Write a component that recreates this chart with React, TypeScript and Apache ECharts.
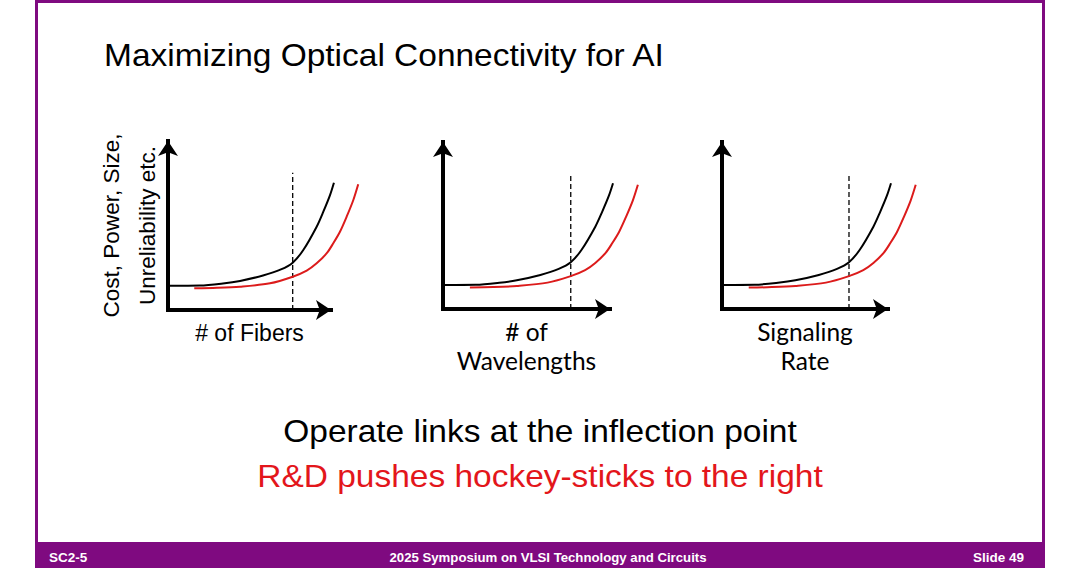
import React, { useEffect, useRef } from "react";
import * as echarts from "echarts";

// ---- data ----
const titleText = "Maximizing Optical Connectivity for AI";
const yAxisTitle = "Cost, Power, Size,\nUnreliability etc.";
const xAxisTitles = ["# of Fibers", "# of\nWavelengths", "Signaling\nRate"];
const baselineX = [0.12, 1.96, 3.37, 4.42, 5.83, 6.93, 7.65, 8.3, 9.12, 9.53, 9.94, 10.18];
const baselineY = [1.44, 1.45, 1.57, 1.72, 2.04, 2.4, 2.8, 3.55, 4.93, 5.82, 6.8, 7.53];
const improvedX = [1.61, 3.0, 4.42, 6.26, 7.65, 8.51, 9.12, 9.74, 10.14, 10.55, 10.96, 11.37, 11.67];
const improvedY = [1.28, 1.31, 1.38, 1.58, 1.97, 2.33, 2.76, 3.36, 3.95, 4.63, 5.52, 6.51, 7.44];
const inflectionX = [7.65, 7.65];
const inflectionY = [0, 8.12];
const message1 = "Operate links at the inflection point";
const message2 = "R&D pushes hockey-sticks to the right";
const footerLeft = "SC2-5";
const footerCenter = "2025 Symposium on VLSI Technology and Circuits";
const footerRight = "Slide 49";

// ---- layout / style ----
const PURPLE = "#7f0a80";
const RED_LINE = "#dc1b1b";
const RED_TEXT = "#e3161b";
const ARIAL = "'Liberation Sans', Arial, Helvetica, sans-serif";
const APTOS = "Lato, 'Noto Sans', sans-serif";
const grids = [
  { left: 168, top: 141, width: 163, height: 169 },
  { left: 443, top: 142, width: 167, height: 167 },
  { left: 722, top: 142, width: 166, height: 167 },
];
const labelFonts = [ARIAL, APTOS, APTOS];
const labelSizes = [23, 24.5, 24.5];
const AXIS_MAX = 10;
const DATA_MAX = 13; // wider hidden plotting area, same scale as the arrow axes

const zip = (xs: number[], ys: number[]) => xs.map((x, i) => [x, ys[i]]);

export default function App() {
  const ref = useRef<HTMLDivElement>(null);
  useEffect(() => {
    if (!ref.current) return;
    const chart = echarts.init(ref.current, undefined, { renderer: "svg" });
    const axisLine = {
      show: true,
      onZero: false,
      symbol: ["none", "arrow"],
      symbolSize: [15, 15],
      lineStyle: { color: "#000", width: 4, cap: "square" },
    };
    const hidden = {
      axisTick: { show: false },
      axisLabel: { show: false },
      splitLine: { show: false },
    };
    const n = grids.length;
    const gridOpts = [
      ...grids.map((g) => ({ ...g, containLabel: false, outerBoundsMode: "none" })),
      ...grids.map((g) => ({
        ...g,
        width: (g.width * DATA_MAX) / AXIS_MAX,
        containLabel: false,
        outerBoundsMode: "none",
      })),
    ];
    const xAxes: any[] = [
      ...grids.map((_, i) => ({
        type: "value",
        gridIndex: i,
        min: 0,
        max: AXIS_MAX,
        axisLine,
        ...hidden,
        name: xAxisTitles[i],
        nameLocation: "middle",
        nameGap: 8,
        nameTextStyle: {
          fontFamily: labelFonts[i],
          fontSize: labelSizes[i],
          lineHeight: 29,
          color: "#000",
        },
      })),
      ...grids.map((_, i) => ({
        type: "value",
        gridIndex: n + i,
        min: 0,
        max: DATA_MAX,
        show: false,
      })),
    ];
    const yAxes: any[] = [
      ...grids.map((_, i) => ({
        type: "value",
        gridIndex: i,
        min: 0,
        max: 10,
        axisLine,
        ...hidden,
        name: i === 0 ? yAxisTitle : "",
        nameLocation: "middle",
        nameRotate: 90,
        nameGap: 3,
        nameTextStyle: {
          fontFamily: ARIAL,
          fontSize: 22.5,
          lineHeight: 36,
          color: "#000",
        },
      })),
      ...grids.map((_, i) => ({
        type: "value",
        gridIndex: n + i,
        min: 0,
        max: 10,
        show: false,
      })),
    ];
    const series: any[] = [];
    grids.forEach((_, i) => {
      const idx = n + i;
      series.push({
        type: "line",
        name: "Today",
        xAxisIndex: idx,
        yAxisIndex: idx,
        data: zip(improvedX, improvedY),
        smooth: 0.3,
        showSymbol: false,
        symbol: "none",
        lineStyle: { color: RED_LINE, width: 2 },
        z: 3,
      });
      series.push({
        type: "line",
        name: "Baseline",
        xAxisIndex: idx,
        yAxisIndex: idx,
        data: zip(baselineX, baselineY),
        smooth: 0.3,
        showSymbol: false,
        symbol: "none",
        lineStyle: { color: "#000", width: 2 },
        z: 4,
      });
      series.push({
        type: "line",
        name: "Inflection",
        xAxisIndex: idx,
        yAxisIndex: idx,
        data: zip(inflectionX, inflectionY),
        showSymbol: false,
        symbol: "none",
        lineStyle: { color: "#000", width: 1.3, type: [5, 3] },
        z: 2,
      });
    });

    const graphic: any[] = [
      { type: "rect", shape: { x: 35, y: 0, width: 1010, height: 3 }, style: { fill: PURPLE } },
      { type: "rect", shape: { x: 35, y: 0, width: 3, height: 568 }, style: { fill: PURPLE } },
      { type: "rect", shape: { x: 1042, y: 0, width: 3, height: 568 }, style: { fill: PURPLE } },
      { type: "rect", shape: { x: 35, y: 542, width: 1010, height: 26 }, style: { fill: PURPLE } },
      {
        type: "text",
        x: 104,
        y: 55,
        scaleX: 1.08,
        style: { text: titleText, fontFamily: ARIAL, fontSize: 31, fill: "#000", textAlign: "left", textVerticalAlign: "middle" },
      },
      {
        type: "text",
        x: 540,
        y: 431,
        scaleX: 1.08,
        style: { text: message1, fontFamily: ARIAL, fontSize: 31, fill: "#000", textAlign: "center", textVerticalAlign: "middle" },
      },
      {
        type: "text",
        x: 540,
        y: 476,
        scaleX: 1.08,
        style: { text: message2, fontFamily: ARIAL, fontSize: 31, fill: RED_TEXT, textAlign: "center", textVerticalAlign: "middle" },
      },
      {
        type: "text",
        x: 49,
        y: 557,
        style: { text: footerLeft, fontFamily: ARIAL, fontWeight: "bold", fontSize: 13.5, fill: "#fff", textAlign: "left", textVerticalAlign: "middle" },
      },
      {
        type: "text",
        x: 548,
        y: 557,
        style: { text: footerCenter, fontFamily: ARIAL, fontWeight: "bold", fontSize: 13.2, fill: "#fff", textAlign: "center", textVerticalAlign: "middle" },
      },
      {
        type: "text",
        x: 1024,
        y: 557,
        style: { text: footerRight, fontFamily: ARIAL, fontWeight: "bold", fontSize: 13.5, fill: "#fff", textAlign: "right", textVerticalAlign: "middle" },
      },
    ];

    chart.setOption({
      animation: false,
      backgroundColor: "#fff",
      grid: gridOpts,
      xAxis: xAxes,
      yAxis: yAxes,
      series,
      graphic,
    });
    return () => chart.dispose();
  }, []);
  return (
    <div
      ref={ref}
      style={{ position: "fixed", left: 0, top: 0, width: 1080, height: 568 }}
    />
  );
}
